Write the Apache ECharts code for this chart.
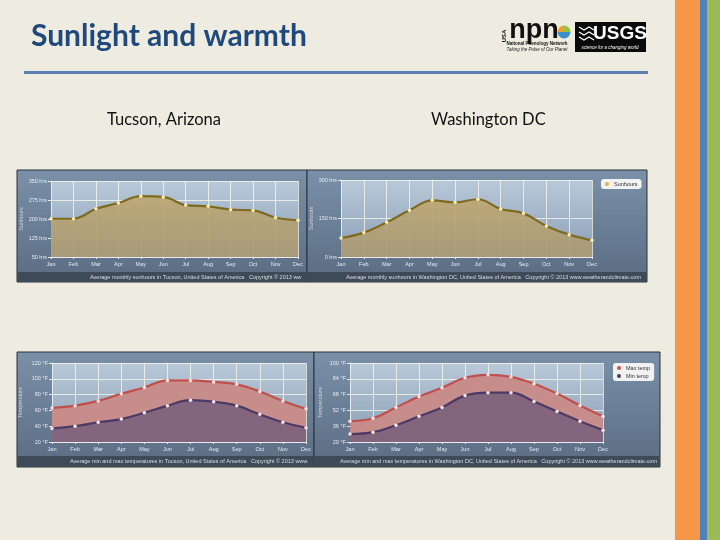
<!DOCTYPE html>
<html>
<head>
<meta charset="utf-8">
<script src="https://cdn.jsdelivr.net/npm/echarts@6/dist/echarts.min.js"></script>
<style>
  html, body { margin: 0; padding: 0; background: #EEECE1; }
  #main { width: 720px; height: 540px; }
</style>
</head>
<body>
<div id="main"></div>
<script>
// month categories shared by all four charts
var months = ['Jan', 'Feb', 'Mar', 'Apr', 'May', 'Jun', 'Jul', 'Aug', 'Sep', 'Oct', 'Nov', 'Dec'];

// sunhours per month
var tucsonSun = [201, 201, 240, 263, 290, 287, 255, 250, 237, 234, 206, 195];
var dcSun = [74, 95, 135, 182, 221, 213, 225, 187, 170, 121, 87, 65];

// min / max temperatures (°F)
var tucsonMax = [63, 66, 72, 81, 89, 98, 98, 96, 93, 84, 72, 62];
var tucsonMin = [37, 40, 45, 49, 57, 66, 73, 71, 66, 55, 45, 38];
var dcMax = [41, 44, 55, 66, 75, 85, 88, 86, 79, 69, 57, 46];
var dcMin = [28, 30, 37, 46, 55, 67, 70, 70, 61, 51, 41, 32];

// y axis tick labels
var tucsonSunTicks = [50, 125, 200, 275, 350];
var dcSunTicks = [0, 150, 300];
var tucsonTempTicks = [20, 40, 60, 80, 100, 120];
var dcTempTicks = [20, 36, 52, 68, 84, 100];

var chart = echarts.init(document.getElementById('main'));
var LG = echarts.graphic.LinearGradient;
var smallFont = 'Liberation Sans';

function plotBg() {
    return new LG(0, 0, 0, 1, [
        {offset: 0, color: '#B9C9DA'},
        {offset: 1, color: '#8A9EB4'}
    ]);
}

function grid(left, top, right, bottom) {
    return {
        left: left, top: top, right: right, bottom: bottom,
        show: true, borderWidth: 0,
        backgroundColor: plotBg()
    };
}

function xAxis(idx) {
    return {
        type: 'category', gridIndex: idx, data: months, boundaryGap: false,
        axisLine: {lineStyle: {color: '#E8ECF0', width: 1}},
        axisTick: {show: true, length: 2, lineStyle: {color: '#E8ECF0'}},
        axisLabel: {color: '#E6EAEE', fontSize: 5.5, fontFamily: smallFont, margin: 4},
        splitLine: {show: true, lineStyle: {color: 'rgba(255,255,235,0.7)', width: 1}}
    };
}

function yAxis(idx, ticks, unit, name, gap) {
    var lo = ticks[0], hi = ticks[ticks.length - 1];
    return {
        type: 'value', gridIndex: idx, min: lo, max: hi,
        name: name, nameLocation: 'middle', nameGap: gap, nameRotate: 90,
        nameTextStyle: {color: '#C9D4DF', fontSize: 5.5, fontFamily: smallFont},
        axisLine: {show: true, lineStyle: {color: '#E8ECF0', width: 1}},
        axisTick: {show: true, length: 3, customValues: ticks, lineStyle: {color: '#E8ECF0'}},
        axisLabel: {
            customValues: ticks, color: '#E6EAEE', fontSize: 5.5, fontFamily: smallFont, margin: 4,
            formatter: '{value} ' + unit
        },
        splitLine: {show: true, customValues: ticks, lineStyle: {color: 'rgba(255,255,235,0.7)', width: 1}},
        splitArea: {show: false}
    };
}

function sunSeries(idx, data) {
    return {
        name: 'Sunhours', type: 'line', xAxisIndex: idx, yAxisIndex: idx,
        data: data, smooth: 0.4,
        symbol: 'circle', symbolSize: 3.5,
        itemStyle: {color: '#F7EDB4'},
        lineStyle: {color: '#7F6A22', width: 2.2},
        areaStyle: {opacity: 0.92, color: new LG(0, 0, 0, 1, [
            {offset: 0, color: '#BDA770'},
            {offset: 1, color: '#A99A76'}
        ])}
    };
}

function tempSeries(idx, name, data, line, fill) {
    return {
        name: name, type: 'line', xAxisIndex: idx, yAxisIndex: idx,
        data: data, smooth: 0.4,
        symbol: 'circle', symbolSize: 3.5,
        itemStyle: {color: '#F6E2E2'},
        lineStyle: {color: line, width: 2.2},
        areaStyle: {color: fill, opacity: 1}
    };
}

// panel frames, footer bars and texts
function panel(x, y, w, h, footH, text, textX, align) {
    return [
        {type: 'rect', z: -5, shape: {x: x, y: y, width: w, height: h},
         style: {fill: new LG(0, 0, 0, 1, [{offset: 0, color: '#7A91A9'}, {offset: 1, color: '#5A6C82'}]),
                 stroke: '#2A3038', lineWidth: 1}},
        {type: 'rect', z: 20, shape: {x: x + 0.5, y: y + h - footH, width: w - 1, height: footH - 0.5},
         style: {fill: '#3E4A57'}},
        {type: 'text', z: 21, x: textX, y: y + h - footH / 2,
         style: {text: text, fill: '#DADFE4', font: '5.5px ' + smallFont,
                 align: align, verticalAlign: 'middle',
                 width: align === 'left' ? (x + w - textX - 1) : undefined,
                 overflow: align === 'left' ? 'truncate' : undefined, ellipsis: ''}}
    ];
}

var graphics = [];
// right side stripes
graphics.push({type: 'rect', shape: {x: 675, y: 0, width: 25, height: 540}, style: {fill: '#F79646'}});
graphics.push({type: 'rect', shape: {x: 700, y: 0, width: 7, height: 540}, style: {fill: '#4F81BD'}});
graphics.push({type: 'rect', shape: {x: 707, y: 0, width: 13, height: 540}, style: {fill: '#9BBB59'}});
// title + rule
graphics.push({type: 'text', x: 31, y: 36, style: {text: 'Sunlight and warmth', fill: '#1F497D',
    font: 'bold 30px Lato', verticalAlign: 'middle'}});
graphics.push({type: 'rect', shape: {x: 24, y: 71, width: 624, height: 3}, style: {fill: '#5B7DB1'}});
// sub headings
graphics.push({type: 'text', x: 107, y: 120, style: {text: 'Tucson, Arizona', fill: '#111',
    font: '16.5px Lato', verticalAlign: 'middle'}});
graphics.push({type: 'text', x: 431, y: 120, style: {text: 'Washington DC', fill: '#111',
    font: '16.5px Lato', verticalAlign: 'middle'}});

// npn logo
graphics.push({type: 'text', x: 504, y: 36, rotation: Math.PI / 2, style: {text: 'USA', fill: '#111',
    font: 'bold 6px ' + smallFont, align: 'center', verticalAlign: 'middle'}});
graphics.push({type: 'text', x: 534, y: 31, style: {text: 'npn', fill: '#111',
    font: 'bold 27px ' + smallFont, align: 'center', verticalAlign: 'middle'}});
graphics.push({type: 'sector', shape: {cx: 564, cy: 32, r: 6.5, startAngle: Math.PI, endAngle: Math.PI * 1.5}, style: {fill: '#F29A33'}});
graphics.push({type: 'sector', shape: {cx: 564, cy: 32, r: 6.5, startAngle: Math.PI * 1.5, endAngle: Math.PI * 2}, style: {fill: '#8DC63F'}});
graphics.push({type: 'sector', shape: {cx: 564, cy: 32, r: 6.5, startAngle: 0, endAngle: Math.PI}, style: {fill: '#3A8FC8'}});
graphics.push({type: 'text', x: 537, y: 44, style: {text: 'National Phenology Network', fill: '#111',
    font: 'bold 4.5px ' + smallFont, align: 'center', verticalAlign: 'middle'}});
graphics.push({type: 'text', x: 537, y: 49.5, style: {text: 'Taking the Pulse of Our Planet', fill: '#222',
    font: 'italic 4.5px ' + smallFont, align: 'center', verticalAlign: 'middle'}});
// usgs logo
graphics.push({type: 'rect', shape: {x: 575, y: 22, width: 71, height: 30}, style: {fill: '#0A0A0A'}});
graphics.push({type: 'polyline', shape: {points: [[579, 27], [584, 30], [589, 27], [594, 30]]}, style: {stroke: '#fff', lineWidth: 1.2, fill: null}});
graphics.push({type: 'polyline', shape: {points: [[579, 32], [584, 35], [589, 32], [594, 35]]}, style: {stroke: '#fff', lineWidth: 1.2, fill: null}});
graphics.push({type: 'polyline', shape: {points: [[579, 37], [584, 40], [589, 37], [594, 40]]}, style: {stroke: '#fff', lineWidth: 1.2, fill: null}});
graphics.push({type: 'text', x: 620, y: 34, style: {text: 'USGS', fill: '#fff',
    font: 'bold 19px "Liberation Sans Narrow", ' + smallFont, align: 'center', verticalAlign: 'middle'}});
graphics.push({type: 'text', x: 610, y: 48, style: {text: 'science for a changing world', fill: '#fff',
    font: 'italic 4.5px ' + smallFont, align: 'center', verticalAlign: 'middle'}});

graphics = graphics.concat(
    panel(17, 170, 290, 112, 10,
        'Average monthly sunhours in Tucson, United States of America   Copyright © 2013 www.weatherandclimate.com', 90, 'left'),
    panel(307, 170, 340, 112, 10,
        'Average monthly sunhours in Washington DC, United States of America   Copyright © 2013 www.weatherandclimate.com', 641, 'right'),
    panel(17, 352, 297, 115, 11,
        'Average min and max temperatures in Tucson, United States of America   Copyright © 2013 www.weatherandclimate.com', 70, 'left'),
    panel(314, 352, 346, 115, 11,
        'Average min and max temperatures in Washington DC, United States of America   Copyright © 2013 www.weatherandclimate.com', 657, 'right')
);

// shallow merge helper for the two legends
function $extend(base, extra) {
    var o = {}, k;
    for (k in base) o[k] = base[k];
    for (k in extra) o[k] = extra[k];
    return o;
}

var legendBox = {
    orient: 'vertical', backgroundColor: '#F2F2F2', borderRadius: 3, padding: [2, 4],
    itemWidth: 4, itemHeight: 4, itemGap: 2, icon: 'circle',
    textStyle: {color: '#333', fontSize: 5.5, fontFamily: smallFont}
};

chart.setOption({
    animation: false,
    backgroundColor: '#EEECE1',
    graphic: {elements: graphics},
    legend: [
        $extend(legendBox, {left: 601, top: 179,
            data: [{name: 'Sunhours', itemStyle: {color: '#E9B43A'}}]}),
        $extend(legendBox, {left: 613, top: 363,
            data: [{name: 'Max temp', itemStyle: {color: '#D0504A'}},
                   {name: 'Min temp', itemStyle: {color: '#4B3A66'}}]})
    ],
    grid: [
        grid(51, 181, 720 - 298, 540 - 257),
        grid(341, 180, 720 - 592, 540 - 257),
        grid(52, 363, 720 - 306, 540 - 442),
        grid(350, 363, 720 - 603, 540 - 442)
    ],
    xAxis: [xAxis(0), xAxis(1), xAxis(2), xAxis(3)],
    yAxis: [
        yAxis(0, tucsonSunTicks, 'hrs', 'Sunhours', 27),
        yAxis(1, dcSunTicks, 'hrs', 'Sunhours', 27),
        yAxis(2, tucsonTempTicks, '°F', 'Temperature', 29),
        yAxis(3, dcTempTicks, '°F', 'Temperature', 27)
    ],
    series: [
        sunSeries(0, tucsonSun),
        sunSeries(1, dcSun),
        tempSeries(2, 'Max temp', tucsonMax, '#C0504D', '#C68D8B'),
        tempSeries(2, 'Min temp', tucsonMin, '#4B3A66', '#84657E'),
        tempSeries(3, 'Max temp', dcMax, '#C0504D', '#C68D8B'),
        tempSeries(3, 'Min temp', dcMin, '#4B3A66', '#84657E')
    ]
});
</script>
</body>
</html>
